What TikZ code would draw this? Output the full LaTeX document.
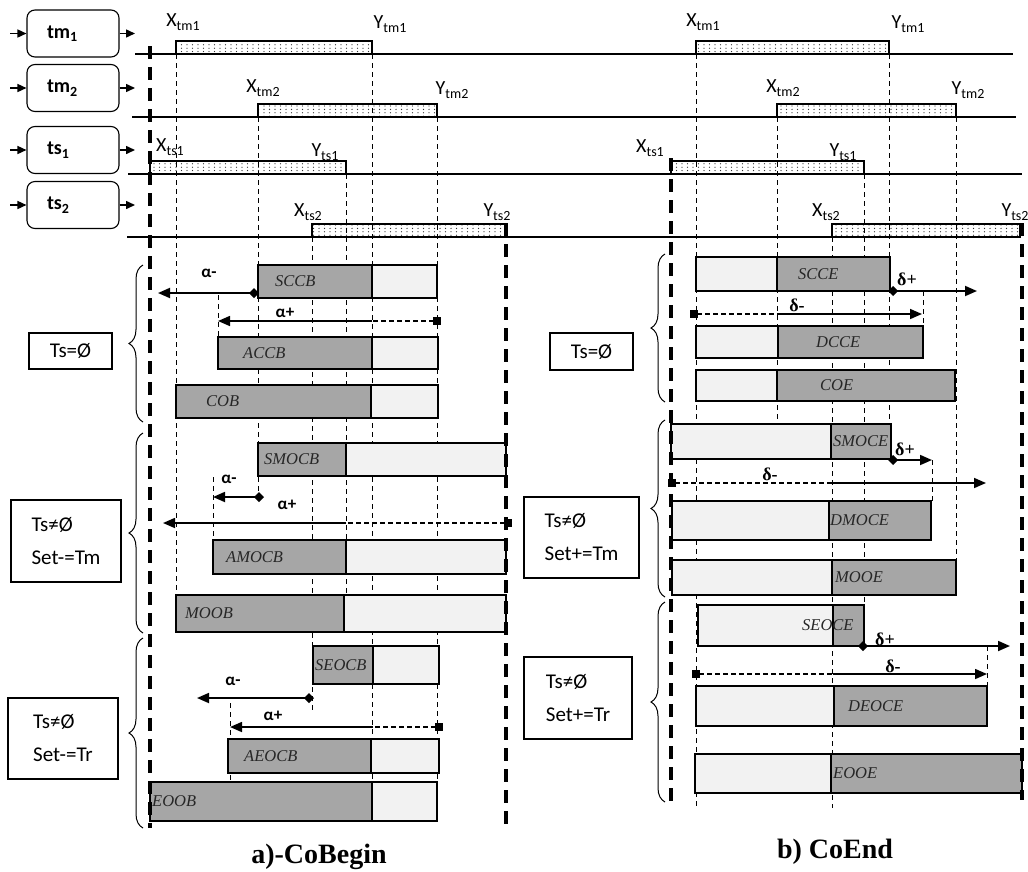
\documentclass[tikz,border=0pt]{standalone}
\usepackage{fontspec}
\setmainfont{Liberation Serif}
\newfontfamily\calib{Carlito}
\usetikzlibrary{arrows.meta,decorations.pathreplacing,patterns}
\pgfdeclarepatternformonly{sparsedots}{\pgfqpoint{-1pt}{-1pt}}{\pgfqpoint{1pt}{1pt}}{\pgfqpoint{5.5pt}{3.4pt}}{%
  \pgfpathcircle{\pgfpointorigin}{0.65pt}\pgfusepath{fill}}
\newcommand{\lowtxt}[1]{\raisebox{-3.5pt}{\fontsize{14}{14}\selectfont #1}}
\tikzset{
  chan/.style={draw, rounded corners=8pt, line width=1.1pt, minimum width=92pt, minimum height=47pt, font=\calib\fontsize{20}{20}\selectfont\bfseries},
  cond/.style={draw, line width=1.1pt, align=left, font=\calib\fontsize{21}{33}\selectfont},
  feed/.style={line width=1.5pt, -{Triangle[length=9pt,width=8pt]}},
  tline/.style={line width=2.6pt},
  span/.style={draw, line width=1.4pt, pattern=sparsedots, pattern color=black!80},
  guide/.style={line width=1pt, dash pattern=on 5pt off 4pt},
  bound/.style={line width=4pt, dash pattern=on 13pt off 8pt},
  darkpart/.style={draw, line width=1.6pt, fill=black!35},
  lightpart/.style={draw, line width=1.6pt, fill=black!5},
  opname/.style={font=\fontsize{16.5}{16.5}\selectfont\itshape, anchor=west, inner sep=0pt, text=black!85},
  lim/.style={font=\calib\fontsize{20}{20}\selectfont},
  dmdarrow/.style={line width=1.8pt, arrows={Diamond[length=10pt,width=10pt]-Triangle[length=12pt,width=10pt]}},
  sqdash/.style={line width=1.2pt, dash pattern=on 5pt off 3pt, arrows={Square[length=8pt,width=8pt]-}},
  sqarrow/.style={line width=1.6pt, arrows={-Triangle[length=12pt,width=10pt]}},
  alphalbl/.style={font=\calib\fontsize{17}{17}\selectfont\bfseries},
  deltalbl/.style={font=\fontsize{18}{18}\selectfont\bfseries},
  brace/.style={decorate, decoration={brace, amplitude=14pt}, line width=1pt},
  panelcap/.style={font=\fontsize{28}{28}\selectfont\bfseries}
}
\newcommand{\cobeginbar}[7]{%
  \draw[darkpart] (#1,#4) rectangle (#2,#5);
  \draw[lightpart] (#2,#4) rectangle (#3,#5);
  \node[opname] (#6) at (#7,{(#4+#5)/2}) {#6};}
\newcommand{\coendbar}[7]{%
  \draw[lightpart] (#1,#4) rectangle (#2,#5);
  \draw[darkpart] (#2,#4) rectangle (#3,#5);
  \node[opname] (#6) at (#7,{(#4+#5)/2}) {#6};}

\begin{document}
\begin{tikzpicture}[x=1pt,y=-1pt]
  \useasboundingbox (0,0) rectangle (1028,871);
  \clip (0,0) rectangle (1028,871);

  \node[chan, text width=52pt] (tmA) at (73,33.5) {tm\lowtxt{1}};
  \node[chan, text width=52pt] (tmB) at (73,88) {tm\lowtxt{2}};
  \node[chan, text width=52pt] (tsA) at (73,150) {ts\lowtxt{1}};
  \node[chan, text width=52pt] (tsB) at (73,205) {ts\lowtxt{2}};
  \foreach \n/\y in {tmA/33.5, tmB/88, tsA/150, tsB/205}{
    \coordinate (\n in) at (10,\y);
    \coordinate (\n out) at (135,\y);
    \draw[feed] (\n in) -- (\n);
    \draw[feed] (\n) -- (\n out);
  }

  \foreach \a/\b/\y in {135/1013/54, 132/1016/117, 128/1022/174, 127/1010/237}
    \draw[tline] (\a,\y) -- (\b,\y);
  \foreach \a/\b/\y in {176/372/41, 258/437/104, 150/346/161, 312/505/224,
                        696/889/41, 777/956/104, 671/864/161, 832/1020/224}
    \draw[span] (\a,\y) rectangle (\b,\y+13);

  \node[lim] (xtmA) at (183,22) {X\lowtxt{tm1}};
  \node[lim] (ytmA) at (390,24) {Y\lowtxt{tm1}};
  \node[lim] (xtmB) at (263,88) {X\lowtxt{tm2}};
  \node[lim] (ytmB) at (452,90) {Y\lowtxt{tm2}};
  \node[lim] (xtsA) at (170,147) {X\lowtxt{ts1}};
  \node[lim] (ytsA) at (325,152) {Y\lowtxt{ts1}};
  \node[lim] (xtsB) at (308,212) {X\lowtxt{ts2}};
  \node[lim] (ytsB) at (497,212) {Y\lowtxt{ts2}};
  \node[lim] (xtmC) at (703,22) {X\lowtxt{tm1}};
  \node[lim] (ytmC) at (908,24) {Y\lowtxt{tm1}};
  \node[lim] (xtmD) at (783,88) {X\lowtxt{tm2}};
  \node[lim] (ytmD) at (968,90) {Y\lowtxt{tm2}};
  \node[lim] (xtsC) at (650,148) {X\lowtxt{ts1}};
  \node[lim] (ytsC) at (843,152) {Y\lowtxt{ts1}};
  \node[lim] (xtsD) at (826,212) {X\lowtxt{ts2}};
  \node[lim] (ytsD) at (1015,212) {Y\lowtxt{ts2}};

  \foreach \x/\a/\b in {176/54/595, 258/117/497, 312/237/713, 346/174/595, 372/54/782,
                        437/117/782, 218/295/337, 213/477/540, 230/703/780,
                        696/54/808, 777/117/424, 832/237/808, 864/174/605, 889/54/424,
                        956/117/560, 923/291/326, 932/460/501, 987/646/686}
    \draw[guide] (\x,\a) -- (\x,\b);

  \cobeginbar{258}{372}{437}{265}{298}{SCCB}{275}
  \cobeginbar{218}{372}{438}{337}{369}{ACCB}{243}
  \cobeginbar{176}{371}{438}{385}{418}{COB}{206}
  \cobeginbar{258}{346}{506}{443}{476}{SMOCB}{264}
  \cobeginbar{213}{346}{506}{540}{574}{AMOCB}{226}
  \cobeginbar{176}{344}{506}{595}{632}{MOOB}{185}
  \cobeginbar{313}{373}{439}{646}{684}{SEOCB}{315}
  \cobeginbar{228}{371}{439}{739}{773}{AEOCB}{244}
  \cobeginbar{150}{372}{437}{782}{821}{EOOB}{152}

  \coendbar{696}{777}{890}{257}{291}{SCCE}{798}
  \coendbar{696}{778}{923}{326}{358}{DCCE}{816}
  \coendbar{696}{777}{955}{370}{401}{COE}{820}
  \coendbar{671}{831}{891}{424}{459}{SMOCE}{833}
  \coendbar{672}{829}{931}{501}{540}{DMOCE}{830}
  \coendbar{672}{832}{956}{560}{595}{MOOE}{835}
  \coendbar{698}{833}{864}{605}{646}{SEOCE}{802}
  \coendbar{696}{834}{987}{686}{726}{DEOCE}{848}
  \coendbar{695}{831}{1022}{754}{793}{EOOE}{833}

  \foreach \x/\a/\b in {150/46/828, 506/223/828, 671/158/808, 1022/223/800}
    \draw[bound] (\x,\a) -- (\x,\b);

  \draw[brace] (143,422) -- (143,265);
  \draw[brace] (143,633) -- (143,433);
  \draw[brace] (143,828) -- (143,638);
  \draw[brace] (665,402) -- (665,254);
  \draw[brace] (665,597) -- (665,420);
  \draw[brace] (665,802) -- (665,602);

  \node[cond, minimum width=83pt, minimum height=36pt] (emptyA) at (70.5,351) {Ts=Ø};
  \node[cond, minimum width=110pt, minimum height=82pt] (tmsetA) at (66,541) {Ts≠Ø\\Set-=Tm};
  \node[cond, minimum width=110pt, minimum height=81pt] (trsetA) at (63,738.5) {Ts≠Ø\\Set-=Tr};
  \node[cond, minimum width=83pt, minimum height=37pt] (emptyB) at (591.5,351.5) {Ts=Ø};
  \node[cond, minimum width=115pt, minimum height=81pt] (tmsetB) at (581.5,537.5) {Ts≠Ø\\Set+=Tm};
  \node[cond, minimum width=108pt, minimum height=82pt] (trsetB) at (578,698) {Ts≠Ø\\Set+=Tr};

  \coordinate (am1s) at (259,293); \coordinate (am1e) at (158,293);
  \coordinate (ap1s) at (441,321); \coordinate (ap1m) at (372,321); \coordinate (ap1e) at (218,321);
  \coordinate (am2s) at (264,497); \coordinate (am2e) at (213,497);
  \coordinate (ap2s) at (512,523); \coordinate (ap2m) at (346,523); \coordinate (ap2e) at (163,523);
  \coordinate (am3s) at (314,698); \coordinate (am3e) at (197,698);
  \coordinate (ap3s) at (443,727); \coordinate (ap3m) at (373,727); \coordinate (ap3e) at (230,727);
  \draw[dmdarrow] (am1s) -- (am1e);
  \draw[sqdash] (ap1s) -- (ap1m); \draw[sqarrow] (ap1m) -- (ap1e);
  \draw[dmdarrow] (am2s) -- (am2e);
  \draw[sqdash] (ap2s) -- (ap2m); \draw[sqarrow] (ap2m) -- (ap2e);
  \draw[dmdarrow] (am3s) -- (am3e);
  \draw[sqdash] (ap3s) -- (ap3m); \draw[sqarrow] (ap3m) -- (ap3e);
  \node[alphalbl] (am1) at (209,273) {α-};
  \node[alphalbl] (ap1) at (285,313) {α+};
  \node[alphalbl] (am2) at (229,479) {α-};
  \node[alphalbl] (ap2) at (287,505) {α+};
  \node[alphalbl] (am3) at (233,681) {α-};
  \node[alphalbl] (ap3) at (273,716) {α+};

  \coordinate (dp1s) at (888,291); \coordinate (dp1e) at (977,291);
  \coordinate (dm1s) at (690,314); \coordinate (dm1m) at (777,314); \coordinate (dm1e) at (922,314);
  \coordinate (dp2s) at (888,460); \coordinate (dp2e) at (932,460);
  \coordinate (dm2s) at (668,483); \coordinate (dm2m) at (831,483); \coordinate (dm2e) at (986,483);
  \coordinate (dp3s) at (858,646); \coordinate (dp3e) at (1010,646);
  \coordinate (dm3s) at (692,674); \coordinate (dm3m) at (833,674); \coordinate (dm3e) at (987,674);
  \draw[dmdarrow] (dp1s) -- (dp1e);
  \draw[sqdash] (dm1s) -- (dm1m); \draw[sqarrow] (dm1m) -- (dm1e);
  \draw[dmdarrow] (dp2s) -- (dp2e);
  \draw[sqdash] (dm2s) -- (dm2m); \draw[sqarrow] (dm2m) -- (dm2e);
  \draw[dmdarrow] (dp3s) -- (dp3e);
  \draw[sqdash] (dm3s) -- (dm3m); \draw[sqarrow] (dm3m) -- (dm3e);
  \node[deltalbl] (dp1) at (907,279) {δ+};
  \node[deltalbl] (dm1) at (797,305) {δ-};
  \node[deltalbl] (dp2) at (905,449) {δ+};
  \node[deltalbl] (dm2) at (770,474) {δ-};
  \node[deltalbl] (dp3) at (885,639) {δ+};
  \node[deltalbl] (dm3) at (893,666) {δ-};

  \node[panelcap] (capA) at (319,857) {a)-CoBegin};
  \node[panelcap] (capB) at (835,852) {b) CoEnd};
\end{tikzpicture}
\end{document}
